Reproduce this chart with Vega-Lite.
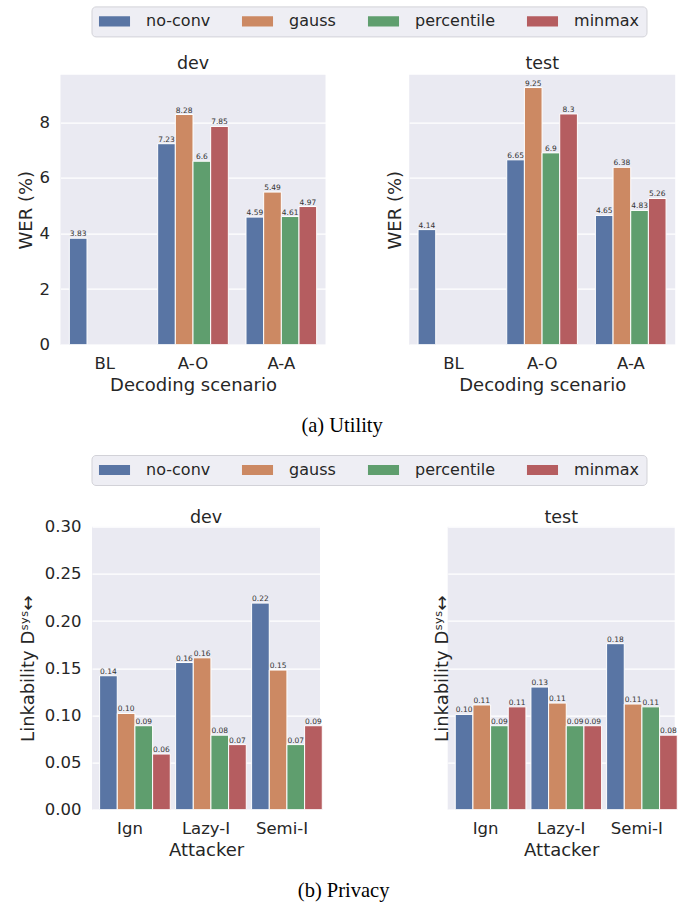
{
  "$schema": "https://vega.github.io/schema/vega-lite/v6.json",
  "background": "white",
  "padding": {"left": 16.5, "top": 5.7, "right": 5, "bottom": 0},
  "datasets": {
    "utility": [
      {"split": "dev", "scenario": "BL", "method": "no-conv", "wer": 3.83},
      {"split": "dev", "scenario": "A-O", "method": "no-conv", "wer": 7.23},
      {"split": "dev", "scenario": "A-O", "method": "gauss", "wer": 8.28},
      {"split": "dev", "scenario": "A-O", "method": "percentile", "wer": 6.6},
      {"split": "dev", "scenario": "A-O", "method": "minmax", "wer": 7.85},
      {"split": "dev", "scenario": "A-A", "method": "no-conv", "wer": 4.59},
      {"split": "dev", "scenario": "A-A", "method": "gauss", "wer": 5.49},
      {"split": "dev", "scenario": "A-A", "method": "percentile", "wer": 4.61},
      {"split": "dev", "scenario": "A-A", "method": "minmax", "wer": 4.97},
      {"split": "test", "scenario": "BL", "method": "no-conv", "wer": 4.14},
      {"split": "test", "scenario": "A-O", "method": "no-conv", "wer": 6.65},
      {"split": "test", "scenario": "A-O", "method": "gauss", "wer": 9.25},
      {"split": "test", "scenario": "A-O", "method": "percentile", "wer": 6.9},
      {"split": "test", "scenario": "A-O", "method": "minmax", "wer": 8.3},
      {"split": "test", "scenario": "A-A", "method": "no-conv", "wer": 4.65},
      {"split": "test", "scenario": "A-A", "method": "gauss", "wer": 6.38},
      {"split": "test", "scenario": "A-A", "method": "percentile", "wer": 4.83},
      {"split": "test", "scenario": "A-A", "method": "minmax", "wer": 5.26}
    ],
    "privacy": [
      {"split": "dev", "attacker": "Ign", "method": "no-conv", "link": 0.142},
      {"split": "dev", "attacker": "Ign", "method": "gauss", "link": 0.102},
      {"split": "dev", "attacker": "Ign", "method": "percentile", "link": 0.089},
      {"split": "dev", "attacker": "Ign", "method": "minmax", "link": 0.059},
      {"split": "dev", "attacker": "Lazy-I", "method": "no-conv", "link": 0.156},
      {"split": "dev", "attacker": "Lazy-I", "method": "gauss", "link": 0.161},
      {"split": "dev", "attacker": "Lazy-I", "method": "percentile", "link": 0.079},
      {"split": "dev", "attacker": "Lazy-I", "method": "minmax", "link": 0.069},
      {"split": "dev", "attacker": "Semi-I", "method": "no-conv", "link": 0.219},
      {"split": "dev", "attacker": "Semi-I", "method": "gauss", "link": 0.148},
      {"split": "dev", "attacker": "Semi-I", "method": "percentile", "link": 0.069},
      {"split": "dev", "attacker": "Semi-I", "method": "minmax", "link": 0.089},
      {"split": "test", "attacker": "Ign", "method": "no-conv", "link": 0.101},
      {"split": "test", "attacker": "Ign", "method": "gauss", "link": 0.111},
      {"split": "test", "attacker": "Ign", "method": "percentile", "link": 0.089},
      {"split": "test", "attacker": "Ign", "method": "minmax", "link": 0.109},
      {"split": "test", "attacker": "Lazy-I", "method": "no-conv", "link": 0.13},
      {"split": "test", "attacker": "Lazy-I", "method": "gauss", "link": 0.113},
      {"split": "test", "attacker": "Lazy-I", "method": "percentile", "link": 0.089},
      {"split": "test", "attacker": "Lazy-I", "method": "minmax", "link": 0.089},
      {"split": "test", "attacker": "Semi-I", "method": "no-conv", "link": 0.176},
      {"split": "test", "attacker": "Semi-I", "method": "gauss", "link": 0.112},
      {"split": "test", "attacker": "Semi-I", "method": "percentile", "link": 0.109},
      {"split": "test", "attacker": "Semi-I", "method": "minmax", "link": 0.079}
    ]
  },
  "config": {
    "font": "DejaVu Sans",
    "view": {"fill": "#EAEAF2", "stroke": null},
    "axis": {
      "grid": true, "gridColor": "white", "gridWidth": 1.2, "domain": false, "ticks": false,
      "labelFont": "DejaVu Sans", "labelFontSize": 16.5, "labelColor": "#262626", "labelPadding": 11,
      "titleFont": "DejaVu Sans", "titleFontSize": 18, "titleColor": "#262626", "titleFontWeight": "normal", "titlePadding": 4
    },
    "axisX": {"grid": false, "labelAngle": 0},
    "title": {"font": "DejaVu Sans", "fontSize": 17.5, "fontWeight": "normal", "color": "#262626", "offset": 2, "anchor": "middle"},
    "legend": {
      "orient": "none", "direction": "horizontal", "columns": 4, "title": null,
      "fillColor": "#EEEEF4", "strokeColor": "#D2D2D8", "cornerRadius": 4, "padding": 7,
      "symbolType": "M-2.07,-0.67H2.07V0.67H-2.07Z", "symbolSize": 225, "symbolStrokeWidth": 0, "symbolOpacity": 1,
      "symbolOffset": 8, "labelOffset": 23.6, "columnPadding": 31,
      "labelFont": "DejaVu Sans", "labelFontSize": 16, "labelColor": "#262626"
    }
  },
  "resolve": {"scale": {"color": "independent"}, "legend": {"color": "independent"}},
  "columns": 1,
  "spacing": 17,
  "concat": [
    {
      "title": {"text": "(a)  Utility", "orient": "bottom", "font": "Liberation Serif", "fontSize": 20.5, "color": "black", "offset": 22, "dx": -4},
      "spacing": 60.7,
      "hconcat": [
        {
          "title": "dev",
          "width": 265, "height": 270,
          "data": {"name": "utility"},
          "transform": [{"filter": "datum.split == 'dev'"}],
          "encoding": {
            "x": {"field": "scenario", "type": "nominal", "sort": ["BL", "A-O", "A-A"], "scale": {"paddingInner": 0.2, "paddingOuter": 0.1}, "axis": {"title": "Decoding scenario"}},
            "xOffset": {"field": "method", "type": "nominal", "scale": {"domain": ["no-conv", "gauss", "percentile", "minmax"]}},
            "y": {"field": "wer", "type": "quantitative", "scale": {"domain": [0, 9.7125], "nice": false}, "axis": {"title": "WER (%)", "values": [0, 2, 4, 6, 8]}}
          },
          "layer": [
            {
              "mark": {"type": "bar", "stroke": "white", "strokeWidth": 1},
              "encoding": {
                "color": {"field": "method", "type": "nominal",
                  "scale": {"domain": ["no-conv", "gauss", "percentile", "minmax"], "range": ["#5975A4", "#CC8963", "#5F9E6E", "#B55D60"]},
                  "legend": {"legendX": 31, "legendY": -68.3}}
              }
            },
            {
              "mark": {"type": "text", "baseline": "bottom", "dy": 0, "fontSize": 7.5, "color": "#333333"},
              "encoding": {"text": {"field": "wer", "type": "quantitative", "format": "~g"}}
            }
          ]
        },
        {
          "title": "test",
          "width": 266, "height": 270,
          "data": {"name": "utility"},
          "transform": [{"filter": "datum.split == 'test'"}],
          "encoding": {
            "x": {"field": "scenario", "type": "nominal", "sort": ["BL", "A-O", "A-A"], "scale": {"paddingInner": 0.2, "paddingOuter": 0.1}, "axis": {"title": "Decoding scenario"}},
            "xOffset": {"field": "method", "type": "nominal", "scale": {"domain": ["no-conv", "gauss", "percentile", "minmax"]}},
            "y": {"field": "wer", "type": "quantitative", "scale": {"domain": [0, 9.7125], "nice": false}, "axis": {"title": "WER (%)", "values": [0, 2, 4, 6, 8], "labels": false, "titlePadding": 5}}
          },
          "layer": [
            {
              "mark": {"type": "bar", "stroke": "white", "strokeWidth": 1},
              "encoding": {
                "color": {"field": "method", "type": "nominal",
                  "scale": {"domain": ["no-conv", "gauss", "percentile", "minmax"], "range": ["#5975A4", "#CC8963", "#5F9E6E", "#B55D60"]},
                  "legend": {"legendX": 31, "legendY": -68.3}}
              }
            },
            {
              "mark": {"type": "text", "baseline": "bottom", "dy": 0, "fontSize": 7.5, "color": "#333333"},
              "encoding": {"text": {"field": "wer", "type": "quantitative", "format": "~g"}}
            }
          ]
        }
      ]
    },
    {
      "title": {"text": "(b)  Privacy", "orient": "bottom", "font": "Liberation Serif", "fontSize": 20.5, "color": "black", "offset": 22, "dx": -5},
      "spacing": -42.5,
      "hconcat": [
        {
          "width": 1, "height": 1,
          "view": {"fill": null, "stroke": null},
          "data": {"values": []},
          "mark": {"type": "point", "opacity": 0},
          "encoding": {}
        },
        {
          "spacing": 76.7,
          "hconcat": [
            {
              "title": {"text": "dev", "offset": -7.5},
              "width": 228, "height": 283,
              "data": {"name": "privacy"},
              "transform": [{"filter": "datum.split == 'dev'"}],
              "encoding": {
                "x": {"field": "attacker", "type": "nominal", "sort": ["Ign", "Lazy-I", "Semi-I"], "scale": {"paddingInner": 0.2, "paddingOuter": 0.1}, "axis": {"title": "Attacker"}},
                "xOffset": {"field": "method", "type": "nominal", "scale": {"domain": ["no-conv", "gauss", "percentile", "minmax"]}},
                "y": {"field": "link", "type": "quantitative", "scale": {"domain": [0, 0.3], "nice": false}, "axis": {"title": "Linkability Dˢʸˢ↔", "values": [0, 0.05, 0.1, 0.15, 0.2, 0.25, 0.3], "format": ".2f", "titlePadding": 6.7}}
              },
              "layer": [
                {
                  "mark": {"type": "bar", "stroke": "white", "strokeWidth": 1},
                  "encoding": {
                    "color": {"field": "method", "type": "nominal",
                      "scale": {"domain": ["no-conv", "gauss", "percentile", "minmax"], "range": ["#5975A4", "#CC8963", "#5F9E6E", "#B55D60"]},
                      "legend": {"legendX": 31, "legendY": -71.7}}
                  }
                },
                {
                  "mark": {"type": "text", "baseline": "bottom", "dy": 0, "fontSize": 7.5, "color": "#333333"},
                  "encoding": {"text": {"field": "link", "type": "quantitative", "format": ".2f"}}
                }
              ]
            },
            {
              "title": {"text": "test", "offset": -7.5},
              "width": 227, "height": 283,
              "data": {"name": "privacy"},
              "transform": [{"filter": "datum.split == 'test'"}],
              "encoding": {
                "x": {"field": "attacker", "type": "nominal", "sort": ["Ign", "Lazy-I", "Semi-I"], "scale": {"paddingInner": 0.2, "paddingOuter": 0.1}, "axis": {"title": "Attacker"}},
                "xOffset": {"field": "method", "type": "nominal", "scale": {"domain": ["no-conv", "gauss", "percentile", "minmax"]}},
                "y": {"field": "link", "type": "quantitative", "scale": {"domain": [0, 0.3], "nice": false}, "axis": {"title": "Linkability Dˢʸˢ↔", "values": [0, 0.05, 0.1, 0.15, 0.2, 0.25, 0.3], "format": ".2f", "labelOpacity": 0, "titlePadding": -52}}
              },
              "layer": [
                {
                  "mark": {"type": "bar", "stroke": "white", "strokeWidth": 1},
                  "encoding": {
                    "color": {"field": "method", "type": "nominal",
                      "scale": {"domain": ["no-conv", "gauss", "percentile", "minmax"], "range": ["#5975A4", "#CC8963", "#5F9E6E", "#B55D60"]},
                      "legend": {"legendX": 31, "legendY": -71.7}}
                  }
                },
                {
                  "mark": {"type": "text", "baseline": "bottom", "dy": 0, "fontSize": 7.5, "color": "#333333"},
                  "encoding": {"text": {"field": "link", "type": "quantitative", "format": ".2f"}}
                }
              ]
            }
          ]
        }
      ]
    }
  ]
}
